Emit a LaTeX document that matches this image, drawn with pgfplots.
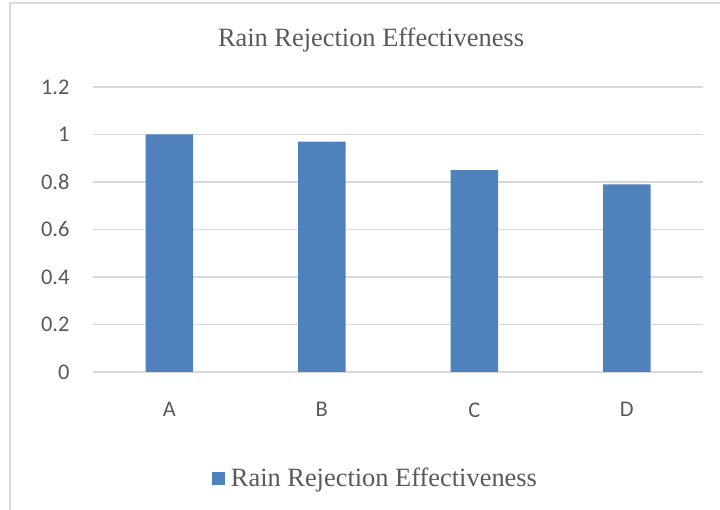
\documentclass[border=0pt]{standalone}
\usepackage{pgfplots}
\pgfplotsset{compat=1.18}
\usepackage{fontspec}
\setmainfont{Liberation Serif}
\newfontfamily\calibri{Carlito}
\definecolor{barblue}{HTML}{4F81BD}
\definecolor{gridgray}{HTML}{D9D9D9}
\definecolor{txtgray}{HTML}{595959}
\begin{document}
\begin{tikzpicture}
\useasboundingbox (0,0) rectangle (720bp,510bp);
\draw[gridgray, line width=1.5bp] (10bp,0bp) -- (10bp,507bp) -- (720bp,507bp);
\node[text=txtgray, font=\fontsize{26.5}{30}\selectfont] at (371bp,470bp) {Rain Rejection Effectiveness};
\begin{axis}[
  at={(93bp,138bp)}, anchor=south west,
  scale only axis,
  width=610bp, height=285bp,
  xmin=-0.5, xmax=3.5,
  ymin=0, ymax=1.2,
  ytick={0,0.2,0.4,0.6,0.8,1,1.2},
  yticklabels={0,0.2,0.4,0.6,0.8,1,1.2},
  xtick={0,1,2,3},
  xticklabels={A,B,C,D},
  major tick length=0pt,
  axis line style={draw=none},
  ymajorgrids,
  major grid style={gridgray, line width=1.5bp},
  ticklabel style={font=\calibri\fontsize{22.5}{26}\selectfont, text=txtgray},
  yticklabel style={xshift=-20bp},
  xticklabel style={yshift=-27bp},
  legend style={at={(0.463,-0.372)}, anchor=center, draw=none, fill=none,
    font=\fontsize{26.5}{30}\selectfont, text=txtgray, inner sep=0pt},
  legend image code/.code={\fill[barblue] (0bp,-7bp) rectangle (13.5bp,6.5bp); \path (17bp,0bp);},
]
\addplot[ybar, bar width=47.5bp, fill=barblue, draw=none] coordinates {(0,1.0) (1,0.97) (2,0.85) (3,0.79)};
\addlegendentry{Rain Rejection Effectiveness}
\end{axis}
\end{tikzpicture}
\end{document}
